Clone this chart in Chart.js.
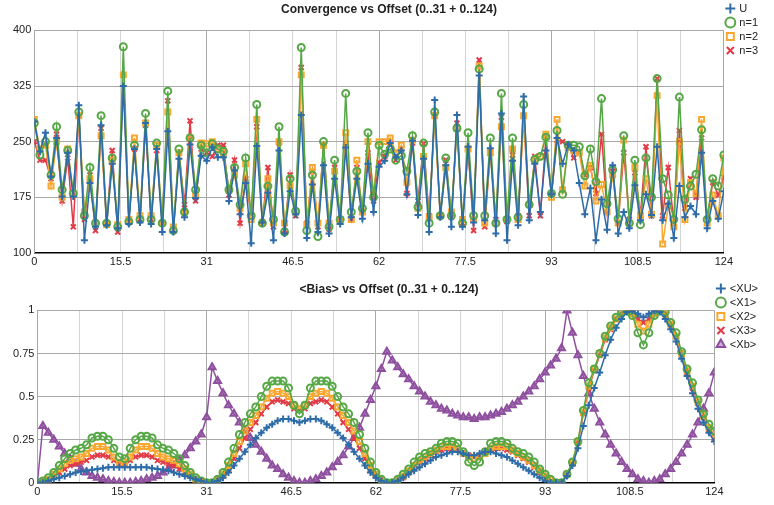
<!DOCTYPE html>
<html>
<head>
<meta charset="utf-8">
<script src="https://cdn.jsdelivr.net/npm/chart.js@4"></script>
<style>
  body { margin: 0; background: #fff; }
  #top { position: absolute; left: 0; top: 0; width: 774px; height: 272px; }
  #bottom { position: absolute; left: 0; top: 280px; width: 774px; height: 222px; }
</style>
</head>
<body>
<div id="top"><canvas id="conv"></canvas></div>
<div id="bottom"><canvas id="bias"></canvas></div>
<script>
const offsets = Array.from({ length: 125 }, (_, i) => i);

// convergence
const convU = [277,237,262,203,255,176,235,176,299,117,194,135,272,137,220,133,325,139,240,141,275,139,240,128,264,128,227,148,246,174,231,224,242,229,229,170,
  211,152,194,113,244,141,181,117,238,126,183,152,286,120,192,128,218,126,200,139,242,148,200,146,220,155,216,224,248,229,238,179,
  251,151,227,128,306,148,218,135,286,135,243,141,339,144,241,126,288,117,224,137,311,144,220,155,238,179,255,220,246,
  238,194,152,187,117,172,131,218,126,155,133,191,144,179,151,243,144,166,120,190,148,163,152,235,133,170,146,183];
const convN1 = [275,232,250,205,270,185,238,180,290,150,215,140,285,140,228,135,378,142,245,145,288,145,248,140,318,130,240,155,255,185,245,235,247,240,237,185,
  215,165,228,150,300,140,190,145,270,128,200,156,377,130,205,122,250,135,225,145,315,155,210,160,262,175,245,233,240,225,231,210,
  258,162,248,140,290,150,228,150,268,140,262,150,348,150,255,140,315,145,255,148,300,165,226,230,256,180,265,179,245,
  245,243,204,240,196,308,166,212,146,258,140,225,138,228,175,335,200,178,145,310,172,190,206,266,145,200,190,232];
const convN2 = [280,240,245,190,250,175,240,180,285,155,200,140,258,138,225,138,340,145,255,150,275,150,245,140,290,135,235,155,255,180,248,247,250,240,235,185,
  205,160,220,145,280,140,200,140,250,140,190,155,340,138,215,140,245,140,210,145,262,145,225,155,250,180,250,250,255,235,245,195,
  252,160,230,148,285,150,215,155,268,145,240,145,352,140,235,140,270,145,240,145,285,165,225,230,260,175,280,185,242,
  238,235,190,218,170,192,155,205,140,252,140,215,150,200,152,312,112,163,135,250,145,195,180,280,140,178,150,228];
const convN3 = [250,225,225,200,260,170,228,135,285,145,205,130,268,140,238,128,340,145,240,145,272,145,238,140,305,130,235,165,278,170,240,235,230,245,245,178,
  225,140,200,150,270,142,215,135,248,130,205,150,350,140,210,135,245,132,215,143,248,145,215,155,235,170,222,230,248,225,240,180,
  248,170,247,150,285,150,225,148,275,140,240,130,360,135,236,145,283,142,232,150,285,150,230,150,255,178,252,250,247,
  228,236,205,215,180,260,155,210,140,235,145,208,152,243,150,335,150,215,140,265,160,200,175,255,145,195,178,202];

// bias
const biasXU = [0,0,0.01,0.02,0.03,0.04,0.05,0.06,0.065,0.07,0.075,0.08,0.085,0.09,0.09,0.09,0.09,0.09,0.09,0.09,0.09,0.085,0.08,0.075,0.07,0.06,0.05,0.04,0.03,0.02,0.01,0,
  0,0.01,0.03,0.06,0.1,0.14,0.18,0.22,0.26,0.29,0.32,0.34,0.36,0.37,0.37,0.36,0.35,0.36,0.37,0.37,0.36,0.34,0.32,0.29,0.26,0.22,0.18,0.14,0.1,0.06,0.03,0.01,
  0,0,0.01,0.03,0.05,0.07,0.09,0.11,0.13,0.15,0.16,0.17,0.18,0.18,0.17,0.16,0.16,0.17,0.18,0.18,0.17,0.16,0.15,0.13,0.11,0.09,0.07,0.05,0.03,0.01,0,0,
  0,0.04,0.1,0.2,0.33,0.45,0.55,0.64,0.74,0.83,0.9,0.95,0.99,1.0,0.98,0.96,0.98,1.0,0.99,0.95,0.89,0.82,0.72,0.62,0.52,0.43,0.35,0.29,0.24];
const biasX1 = [0,0.01,0.03,0.06,0.1,0.14,0.17,0.19,0.2,0.22,0.26,0.27,0.27,0.25,0.2,0.15,0.14,0.2,0.25,0.27,0.27,0.26,0.22,0.2,0.19,0.17,0.14,0.1,0.06,0.03,0.01,0,
  0,0.02,0.06,0.12,0.2,0.28,0.35,0.4,0.44,0.5,0.56,0.59,0.59,0.59,0.55,0.45,0.4,0.45,0.55,0.59,0.59,0.59,0.56,0.5,0.44,0.4,0.35,0.28,0.2,0.12,0.06,0.02,
  0,0,0.02,0.05,0.08,0.12,0.15,0.17,0.18,0.2,0.23,0.24,0.24,0.23,0.18,0.12,0.1,0.12,0.18,0.23,0.24,0.24,0.23,0.2,0.18,0.17,0.15,0.12,0.08,0.05,0.02,0,
  0,0.05,0.12,0.24,0.42,0.58,0.66,0.75,0.85,0.91,0.96,0.99,1.0,0.97,0.87,0.8,0.87,0.97,1.0,0.99,0.93,0.87,0.76,0.66,0.58,0.48,0.4,0.34,0.3];
const biasX2 = [0,0.01,0.02,0.05,0.08,0.11,0.13,0.14,0.15,0.17,0.2,0.21,0.21,0.19,0.15,0.12,0.12,0.15,0.19,0.21,0.21,0.2,0.17,0.15,0.14,0.13,0.11,0.08,0.05,0.02,0.01,0,
  0,0.02,0.05,0.1,0.17,0.24,0.3,0.35,0.39,0.44,0.49,0.52,0.53,0.52,0.5,0.45,0.43,0.45,0.5,0.52,0.53,0.52,0.49,0.44,0.39,0.35,0.3,0.24,0.17,0.1,0.05,0.02,
  0,0,0.02,0.04,0.07,0.1,0.13,0.15,0.17,0.19,0.21,0.21,0.21,0.2,0.17,0.15,0.14,0.15,0.17,0.2,0.21,0.21,0.21,0.19,0.17,0.15,0.13,0.1,0.07,0.04,0.02,0,
  0,0.05,0.12,0.24,0.41,0.56,0.66,0.75,0.84,0.9,0.95,0.99,1.0,0.98,0.92,0.88,0.92,0.98,1.0,0.98,0.92,0.85,0.75,0.65,0.56,0.47,0.39,0.32,0.28];
const biasX3 = [0,0.01,0.02,0.04,0.06,0.08,0.1,0.11,0.12,0.13,0.15,0.16,0.16,0.15,0.13,0.11,0.11,0.13,0.15,0.16,0.16,0.15,0.13,0.12,0.11,0.1,0.08,0.06,0.04,0.02,0.01,0,
  0,0.02,0.04,0.08,0.14,0.2,0.26,0.31,0.35,0.4,0.44,0.47,0.48,0.47,0.46,0.43,0.42,0.43,0.46,0.47,0.48,0.47,0.44,0.4,0.35,0.31,0.26,0.2,0.14,0.08,0.04,0.02,
  0,0,0.01,0.03,0.06,0.09,0.12,0.14,0.16,0.18,0.19,0.2,0.2,0.19,0.17,0.16,0.15,0.16,0.17,0.19,0.2,0.2,0.19,0.18,0.16,0.14,0.12,0.09,0.06,0.03,0.01,0,
  0,0.05,0.11,0.23,0.4,0.55,0.65,0.74,0.83,0.89,0.95,0.98,1.0,0.99,0.95,0.93,0.95,0.99,1.0,0.98,0.92,0.85,0.74,0.64,0.55,0.46,0.38,0.31,0.26];
const biasXb = [0,0.33,0.29,0.25,0.21,0.17,0.14,0.11,0.08,0.06,0.04,0.03,0.02,0.01,0.005,0,0,0,0.005,0.01,0.02,0.03,0.04,0.06,0.08,0.1,0.13,0.16,0.2,0.24,0.28,0.38,
  0.67,0.59,0.52,0.45,0.4,0.35,0.3,0.26,0.22,0.18,0.14,0.1,0.08,0.05,0.03,0.01,0,0,0.01,0.02,0.04,0.06,0.09,0.12,0.16,0.21,0.26,0.32,0.4,0.48,0.56,0.66,
  0.76,0.71,0.67,0.63,0.6,0.56,0.53,0.5,0.47,0.45,0.43,0.42,0.4,0.39,0.38,0.38,0.37,0.38,0.38,0.39,0.4,0.41,0.43,0.45,0.47,0.5,0.53,0.56,0.6,0.64,0.68,0.72,
  0.78,1.0,0.87,0.74,0.62,0.52,0.43,0.35,0.28,0.22,0.17,0.12,0.08,0.05,0.02,0.01,0,0.01,0.02,0.05,0.08,0.12,0.17,0.22,0.28,0.35,0.43,0.52,0.64];

const xTicks = { min: 0, max: 124, step: 7.75 };
const convTicks = [100, 175, 250, 325, 400];
const biasTicks = [0, 0.25, 0.5, 0.75, 1];

const BLUE = "#2d6ca8", GREEN = "#56a846", ORANGE = "#f8a830", RED = "#e23a46", PURPLE = "#8f4f9f";

function series(label, data, color, style) {
    const hollow = style === "circle" || style === "rect" || style === "triangle";
    return {
        label: label,
        data: data.map((v, i) => ({ x: offsets[i], y: v })),
        borderColor: color,
        backgroundColor: style === "triangle" ? "rgba(143,79,159,0.45)" : hollow ? "rgba(255,255,255,0)" : color,
        pointBorderColor: color,
        pointStyle: style,
        pointRadius: style === "triangle" ? 4 : 3.5,
        pointBorderWidth: 2,
        borderWidth: 1.5,
        tension: 0,
    };
}

function makeOptions(title, ticks, fmt, titleGap) {
    return {
        animation: false,
        responsive: true,
        maintainAspectRatio: false,
        layout: { padding: { left: 10, right: 6 } },
        plugins: {
            title: {
                display: true,
                text: title,
                color: "#222",
                font: { family: "Liberation Sans", size: 12, weight: "bold" },
                padding: { top: 2, bottom: titleGap },
            },
            legend: {
                position: "right",
                align: "start",
                labels: {
                    usePointStyle: true,
                    boxWidth: 7,
                    boxHeight: 7,
                    padding: 3,
                    color: "#222",
                    font: { family: "Liberation Sans", size: 11 },
                },
            },
        },
        scales: {
            x: {
                type: "linear",
                min: xTicks.min,
                max: xTicks.max,
                ticks: {
                    stepSize: xTicks.step,
                    autoSkip: false,
                    maxRotation: 0,
                    color: "#222",
                    font: { family: "Liberation Sans", size: 11 },
                    callback: (v) => (Math.round(v / xTicks.step) % 2 === 0 ? String(v) : ""),
                },
                grid: {
                    color: (ctx) => (Math.round(ctx.tick.value / xTicks.step) % 4 === 0 ? "#a8a8a8" : "#d4d4d4"),
                    drawTicks: false,
                },
                border: { color: "#000", width: 1.5 },
            },
            y: {
                min: ticks[0],
                max: ticks[ticks.length - 1],
                afterBuildTicks: (axis) => { axis.ticks = ticks.map((v) => ({ value: v })); },
                ticks: {
                    color: "#222",
                    font: { family: "Liberation Sans", size: 11 },
                    callback: fmt,
                },
                grid: { color: "#a8a8a8", drawTicks: false },
                border: { color: "#a8a8a8" },
            },
        },
    };
}

new Chart(document.getElementById("conv"), {
    type: "line",
    data: {
        datasets: [
            series("U", convU, BLUE, "cross"),
            series("n=1", convN1, GREEN, "circle"),
            series("n=2", convN2, ORANGE, "rect"),
            series("n=3", convN3, RED, "crossRot"),
        ],
    },
    options: makeOptions("Convergence vs Offset (0..31 + 0..124)", convTicks, (v) => String(v), 14),
});

new Chart(document.getElementById("bias"), {
    type: "line",
    data: {
        datasets: [
            series("<XU>", biasXU, BLUE, "cross"),
            series("<X1>", biasX1, GREEN, "circle"),
            series("<X2>", biasX2, ORANGE, "rect"),
            series("<X3>", biasX3, RED, "crossRot"),
            series("<Xb>", biasXb, PURPLE, "triangle"),
        ],
    },
    options: makeOptions("<Bias> vs Offset (0..31 + 0..124)", biasTicks, (v) => String(v), 14),
});
</script>
</body>
</html>
